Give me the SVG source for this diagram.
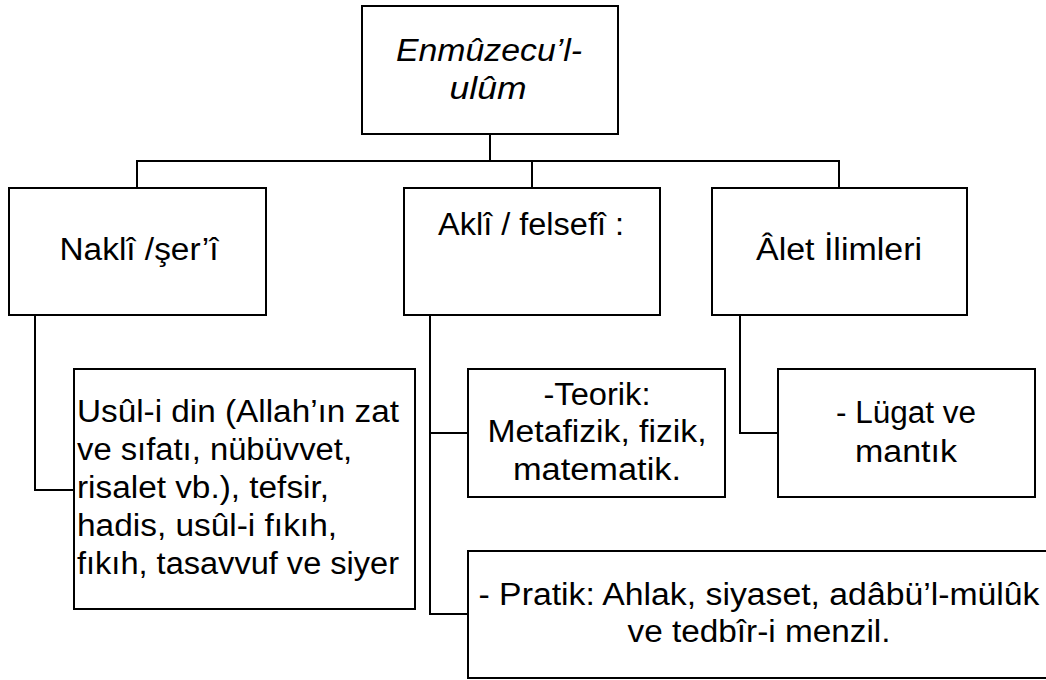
<svg xmlns="http://www.w3.org/2000/svg" width="1046" height="680" viewBox="0 0 1046 680">
<style>
rect.box{fill:#fff;stroke:#000;stroke-width:2}
#connectors path{fill:none;stroke:#000;stroke-width:2}
text{font-family:"Liberation Sans",Arial,sans-serif;font-size:31px;fill:#000}
.c{text-anchor:middle}
.i{font-style:italic}
</style>
<rect width="1046" height="680" fill="#fff"/>
<g id="connectors">
<path d="M490 134V161M137 188V161H839V188M532 161V188"/>
<path d="M35 315V490H74"/>
<path d="M430 315V614H468M430 433H468"/>
<path d="M740 315V433H778"/>
</g>
<g id="root">
<rect class="box" x="362" y="6" width="256" height="128"/>
<text class="c i" x="489" y="61" textLength="186" lengthAdjust="spacingAndGlyphs">Enmûzecu’l-</text>
<text class="c i" x="488" y="99" textLength="77" lengthAdjust="spacingAndGlyphs">ulûm</text>
</g>
<g id="nakli">
<rect class="box" x="9" y="188" width="257" height="127"/>
<text class="c" x="139" y="260" textLength="159" lengthAdjust="spacingAndGlyphs">Naklî /şer’î</text>
</g>
<g id="akli">
<rect class="box" x="404" y="188" width="256" height="127"/>
<text class="c" x="531" y="235" textLength="186" lengthAdjust="spacingAndGlyphs">Aklî / felsefî :</text>
</g>
<g id="alet">
<rect class="box" x="712" y="188" width="255" height="127"/>
<text class="c" x="839" y="260" textLength="166" lengthAdjust="spacingAndGlyphs">Âlet İlimleri</text>
</g>
<g id="usul">
<rect class="box" x="74" y="369" width="341" height="240"/>
<text x="77" y="422" textLength="322" lengthAdjust="spacingAndGlyphs">Usûl-i din (Allah’ın zat</text>
<text x="77" y="460" textLength="275" lengthAdjust="spacingAndGlyphs">ve sıfatı, nübüvvet,</text>
<text x="77" y="498" textLength="252" lengthAdjust="spacingAndGlyphs">risalet vb.), tefsir,</text>
<text x="77" y="536" textLength="260" lengthAdjust="spacingAndGlyphs">hadis, usûl-i fıkıh,</text>
<text x="77" y="574" textLength="322" lengthAdjust="spacingAndGlyphs">fıkıh, tasavvuf ve siyer</text>
</g>
<g id="teorik">
<rect class="box" x="468" y="369" width="257" height="128"/>
<text class="c" x="597" y="405" textLength="107" lengthAdjust="spacingAndGlyphs">-Teorik:</text>
<text class="c" x="597" y="442" textLength="219" lengthAdjust="spacingAndGlyphs">Metafizik, fizik,</text>
<text class="c" x="597" y="480" textLength="168" lengthAdjust="spacingAndGlyphs">matematik.</text>
</g>
<g id="lugat">
<rect class="box" x="778" y="369" width="257" height="128"/>
<text class="c" x="906" y="423" textLength="140" lengthAdjust="spacingAndGlyphs">- Lügat ve</text>
<text class="c" x="906" y="462" textLength="102" lengthAdjust="spacingAndGlyphs">mantık</text>
</g>
<g id="pratik">
<rect class="box" x="468" y="551" width="583" height="127"/>
<text class="c" x="759" y="605" textLength="561" lengthAdjust="spacingAndGlyphs">- Pratik: Ahlak, siyaset, adâbü’l-mülûk</text>
<text class="c" x="759" y="642" textLength="263" lengthAdjust="spacingAndGlyphs">ve tedbîr-i menzil.</text>
</g>
</svg>
